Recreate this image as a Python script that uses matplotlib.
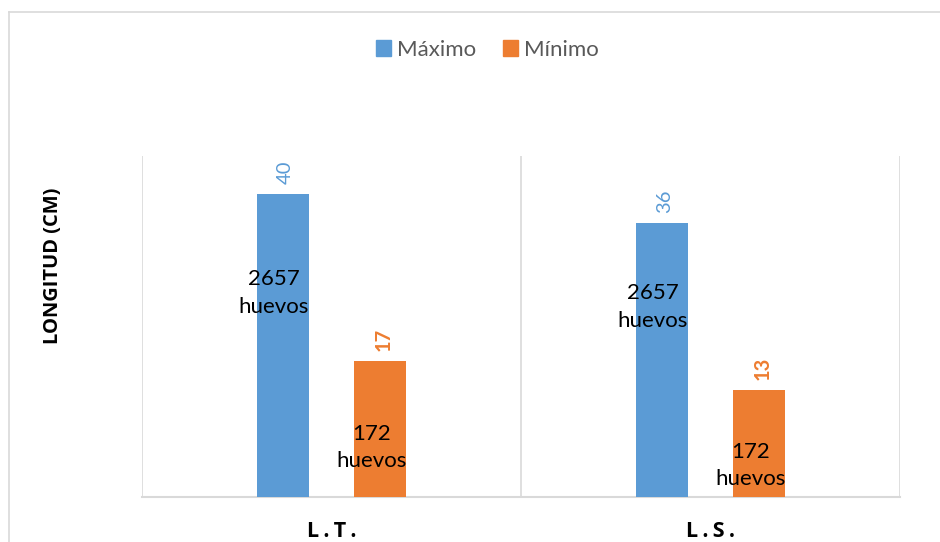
import matplotlib
matplotlib.use("Agg")
import matplotlib.pyplot as plt
from matplotlib.lines import Line2D
import numpy as np

plt.rcParams['font.family'] = ['Lato', 'DejaVu Sans']

categories = ["L.T.", "L.S."]
series_names = ["Máximo", "Mínimo"]
maximo = [40, 36]
minimo = [17, 13]
maximo_notes = ["2657\nhuevos", "2657\nhuevos"]
minimo_notes = ["172\nhuevos", "172\nhuevos"]

colors = ["#5B9BD5", "#ED7D31"]
# layout: axis floor and vertical position (fraction of bar height) of the note labels
Y0 = -1.73
maximo_note_frac = [0.66, 0.68]
minimo_note_frac = [0.30, 0.20]

fig = plt.figure(figsize=(9.4, 5.42), dpi=100)
ax = fig.add_axes([142/940, 45/542, (900-142)/940, (497-156)/542])

x = np.arange(len(categories))
w = 0.137
off = 0.129
b1 = ax.bar(x - off, np.array(maximo) - Y0, w, bottom=Y0, color=colors[0], label=series_names[0])
b2 = ax.bar(x + off, np.array(minimo) - Y0, w, bottom=Y0, color=colors[1], label=series_names[1])

ax.set_xlim(-0.5, 1.5)
ax.set_ylim(Y0, 45.3)

grid_c = "#D9D9D9"
for xv in [-0.5, 0.5, 1.5]:
    ax.axvline(xv, color=grid_c, lw=1.2, zorder=0)
ax.axhline(Y0, color=grid_c, lw=1.5, zorder=0, clip_on=False)
for s in ax.spines.values():
    s.set_visible(False)
ax.set_yticks([])
ax.set_xticks(x)
spaced = ["\u2009".join(c) for c in categories]
ax.set_xticklabels(spaced, fontsize=15.5, fontweight='bold', color='black',
                   family=['Open Sans', 'DejaVu Sans'])
ax.tick_params(axis='x', length=0, pad=17)

# value labels
for bars, vals, col, fw in [(b1, maximo, colors[0], 'normal'), (b2, minimo, colors[1], 'bold')]:
    for r, v in zip(bars, vals):
        ax.annotate(str(v), (r.get_x() + r.get_width()/2, v),
                    xytext=(3, 10), textcoords='offset pixels', rotation=90,
                    ha='center', va='bottom', fontsize=14.5, color=col, fontweight=fw)

# inner notes
for bars, notes, vals, fr in [(b1, maximo_notes, maximo, maximo_note_frac),
                              (b2, minimo_notes, minimo, minimo_note_frac)]:
    for r, t, v, f in zip(bars, notes, vals, fr):
        ax.annotate(t, (r.get_x() + r.get_width()/2, v*f),
                    xytext=(-9, 0), textcoords='offset pixels',
                    ha='center', va='center', fontsize=16, color='black',
                    linespacing=1.45)

fig.text(53/940, 1 - 265.5/542, "LONGITUD (CM)", rotation=90, ha='center', va='center',
         fontsize=14.5, fontweight='bold', color='black', family=['Open Sans', 'DejaVu Sans'])

handles = [plt.Rectangle((0, 0), 1, 1, color=c) for c in colors]
fig.legend(handles, series_names, loc='center', bbox_to_anchor=(487/940, 1 - 50/542),
           ncol=2, frameon=False, fontsize=16, labelcolor='#595959',
           handlelength=0.7, handleheight=0.7, handletextpad=0.25, columnspacing=1.2)

# chart border
fig.add_artist(Line2D([9/940, 9/940], [0, 1 - 12/542], color=grid_c, lw=1.2))
fig.add_artist(Line2D([9/940, 1], [1 - 12/542, 1 - 12/542], color=grid_c, lw=1.2))

fig.savefig("out.png", dpi=100)
